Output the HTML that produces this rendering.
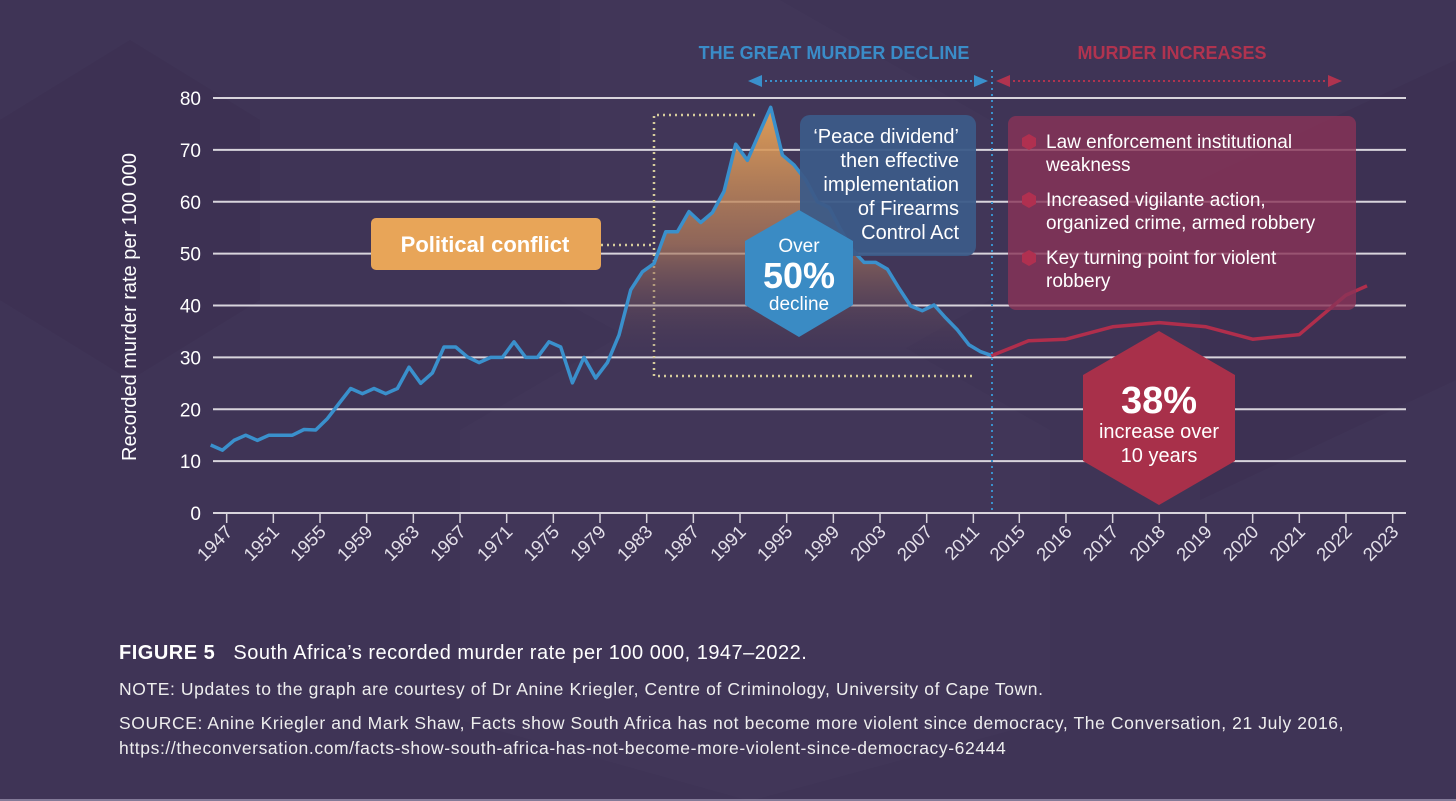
<!DOCTYPE html>
<html><head><meta charset="utf-8">
<style>
html,body{margin:0;padding:0;width:1456px;height:801px;overflow:hidden;background:#3f3456;}
svg{display:block;font-family:"Liberation Sans",sans-serif;}
.cap{position:absolute;left:119px;color:#fff;font-family:"Liberation Sans",sans-serif;white-space:nowrap;}
</style></head>
<body>
<svg id="chart" width="1456" height="801" viewBox="0 0 1456 801" xmlns="http://www.w3.org/2000/svg">
<defs>
<linearGradient id="peakFill" x1="0" y1="0" x2="0" y2="1">
<stop offset="0" stop-color="#e8a356" stop-opacity="0.95"/>
<stop offset="0.55" stop-color="#b07a5a" stop-opacity="0.7"/>
<stop offset="1" stop-color="#4a3a5a" stop-opacity="0.1"/>
</linearGradient>
</defs>
<rect width="1456" height="801" fill="#3f3456"/>
<g opacity="0.2">
<polygon points="0,120 130,40 260,120 260,300 130,380 0,300" fill="#35294a"/>
<polygon points="560,0 780,0 990,120 990,300 780,420 560,300" fill="#4a3f62"/>
<polygon points="1200,180 1456,60 1456,380 1200,500" fill="#35294a"/>
<polygon points="460,430 750,260 1050,430 1050,720 750,801 460,720" fill="#4a3f62"/>
</g>
<g id="grid"></g>
<g id="yticks"></g>
<text transform="translate(136,307) rotate(-90)" text-anchor="middle" fill="#fff" font-size="20">Recorded murder rate per 100 000</text>
<g id="xaxis"></g>

<path d="M755,115 H654 V376 H972" fill="none" stroke="#d6cc9c" stroke-width="2.5" stroke-dasharray="2,4"/>
<line x1="601" y1="245" x2="652" y2="245" stroke="#d6cc9c" stroke-width="2.5" stroke-dasharray="2,4"/>

<path id="area" fill="url(#peakFill)"/>
<path id="blueLine" fill="none" stroke="#3a90cc" stroke-width="3.5" stroke-linejoin="round"/>
<path id="redLine" fill="none" stroke="#b02e4c" stroke-width="3.5" stroke-linejoin="round"/>

<line x1="992" y1="70" x2="992" y2="513" stroke="#3a90cc" stroke-width="2" stroke-dasharray="2,4"/>

<text x="834" y="59" text-anchor="middle" fill="#3a8cc8" font-size="18" font-weight="bold">THE GREAT MURDER DECLINE</text>
<text x="1172" y="59" text-anchor="middle" fill="#b0334f" font-size="18" font-weight="bold">MURDER INCREASES</text>
<g>
<line x1="760" y1="81" x2="976" y2="81" stroke="#3a90cc" stroke-width="2" stroke-dasharray="2,3"/>
<polygon points="748,81 762,75 762,87" fill="#3a90cc"/><polygon points="988,81 974,75 974,87" fill="#3a90cc"/>
</g>
<g>
<line x1="1008" y1="81" x2="1330" y2="81" stroke="#b0334f" stroke-width="2" stroke-dasharray="2,3"/>
<polygon points="996,81 1010,75 1010,87" fill="#b0334f"/><polygon points="1342,81 1328,75 1328,87" fill="#b0334f"/>
</g>

<g>
<rect x="371" y="218" width="230" height="52" rx="5" fill="#e8a558"/>
<text x="485" y="252" text-anchor="middle" fill="#fff" font-size="22" font-weight="bold">Political conflict</text>
</g>

<g>
<rect x="800" y="115" width="176" height="141" rx="10" fill="#3c5b88" opacity="0.95"/>
<g fill="#fff" font-size="20" text-anchor="end">
<text x="959" y="143">‘Peace dividend’</text>
<text x="959" y="167">then effective</text>
<text x="959" y="191">implementation</text>
<text x="959" y="215">of Firearms</text>
<text x="959" y="239">Control Act</text>
</g>
</g>

<g>
<polygon points="799,210 853,241 853,305 799,337 745,305 745,241" fill="#3a8bc4"/>
<text x="799" y="252" text-anchor="middle" fill="#fff" font-size="19">Over</text>
<text x="799" y="288" text-anchor="middle" fill="#fff" font-size="36" font-weight="bold">50%</text>
<text x="799" y="310" text-anchor="middle" fill="#fff" font-size="19">decline</text>
</g>

<g>
<rect x="1008" y="116" width="348" height="194" rx="8" fill="#8a3358" opacity="0.8"/>
<g fill="#b03050">
<polygon points="1029,134 1036,138 1036,146 1029,150 1022,146 1022,138"/>
<polygon points="1029,192 1036,196 1036,204 1029,208 1022,204 1022,196"/>
<polygon points="1029,250 1036,254 1036,262 1029,266 1022,262 1022,254"/>
</g>
<g fill="#fff" font-size="19">
<text x="1046" y="148">Law enforcement institutional</text>
<text x="1046" y="171">weakness</text>
<text x="1046" y="206">Increased vigilante action,</text>
<text x="1046" y="229">organized crime, armed robbery</text>
<text x="1046" y="264">Key turning point for violent</text>
<text x="1046" y="287">robbery</text>
</g>
</g>

<g>
<polygon points="1159,331 1235,375 1235,461 1159,505 1083,461 1083,375" fill="#a8304a"/>
<text x="1159" y="413" text-anchor="middle" fill="#fff" font-size="38" font-weight="bold">38%</text>
<text x="1159" y="438" text-anchor="middle" fill="#fff" font-size="20">increase over</text>
<text x="1159" y="462" text-anchor="middle" fill="#fff" font-size="20">10 years</text>
</g>
<line x1="0" y1="800" x2="1456" y2="800" stroke="#9a92ad" stroke-width="1.5"/>
</svg>

<div class="cap" style="top:642px;font-size:20px;letter-spacing:0.5px;"><b>FIGURE 5</b>&nbsp;&nbsp; South Africa’s recorded murder rate per 100 000, 1947–2022.</div>
<div class="cap" style="top:679px;font-size:17.5px;letter-spacing:0.6px;color:#eee;">NOTE: Updates to the graph are courtesy of Dr Anine Kriegler, Centre of Criminology, University of Cape Town.</div>
<div class="cap" style="top:711px;font-size:17.5px;letter-spacing:0.6px;color:#eee;line-height:25px;">SOURCE: Anine Kriegler and Mark Shaw, Facts show South Africa has not become more violent since democracy, The Conversation, 21 July 2016,<br>https://theconversation.com/facts-show-south-africa-has-not-become-more-violent-since-democracy-62444</div>

<script>
const yTicks = [0,10,20,30,40,50,60,70,80];
const xTickLabelsEarly = ['1947','1951','1955','1959','1963','1967','1971','1975','1979','1983','1987','1991','1995','1999','2003','2007','2011'];
const xTickLabelsLate = ['2015','2016','2017','2018','2019','2020','2021','2022','2023'];
const blueYears = [1946,1947,1948,1949,1950,1951,1952,1953,1954,1955,1956,1957,1958,1959,1960,1961,1962,1963,1964,1965,1966,1967,1968,1969,1970,1971,1972,1973,1974,1975,1976,1977,1978,1979,1980,1981,1982,1983,1984,1985,1986,1987,1988,1989,1990,1991,1992,1993,1994,1995,1996,1997,1998,1999,2000,2001,2002,2003,2004,2005,2006,2007,2008,2009,2010,2011,2012,2013];
const blueValues = [13.1,12.1,14,15,14,15,15,15,16.1,16,18.2,21.1,24,23,24,23,24,28.1,25,27,32,32,30.1,29,30,30,33,30,30,33,32,25.1,30,26,29,34.3,43,46.5,48.1,54.2,54.2,58.1,56,57.9,62,71.1,68,73.1,78.2,69,67.1,64.2,60,58.9,54.6,50.7,48.3,48.3,47,43.3,39.9,39,40.1,37.6,35.3,32.4,31.1,30.3];
const redYears = [2014.4,2015.2,2016,2017,2018,2019,2020,2021,2022,2022.45];
const redValues = [30.3,33.2,33.5,35.9,36.7,35.9,33.5,34.4,42.0,43.8];
const areaStartYear = 1981;

const NS='http://www.w3.org/2000/svg';
const y = v => 513 - v*5.1875;
const xEarly = yr => 210.7 + (yr-1946)*11.667;
const xLate = yr => 1019.3 + (yr-2015)*46.67;
function mk(tag, attrs, parent){const e=document.createElementNS(NS,tag);for(const k in attrs)e.setAttribute(k,attrs[k]);parent.appendChild(e);return e;}

const grid=document.getElementById('grid'), yt=document.getElementById('yticks'), xa=document.getElementById('xaxis');
yTicks.forEach(v=>{
  const l=mk('line',{x1:213,x2:1406,y1:y(v),y2:y(v),stroke:'#d8d4dc','stroke-width':2},grid);
  
  
  const t=mk('text',{x:201,y:y(v)+7,'text-anchor':'end',fill:'#fff','font-size':19},yt);
  t.textContent=v;
  
  
});
function xTick(x,label){
  const tk=mk('line',{x1:x,x2:x,y1:513,y2:523,stroke:'#d8d4dc','stroke-width':1.5},xa);
  
  
  const t=mk('text',{transform:`translate(${x+7},${533}) rotate(-45)`,'text-anchor':'end',fill:'#e4e0ea','font-size':18.5},xa);
  t.textContent=label;
  
  
}
xTickLabelsEarly.forEach(l=>xTick(xEarly(+l)+4.3,l));
xTickLabelsLate.forEach(l=>xTick(xLate(+l),l));

const bpts=blueYears.map((yr,i)=>[xEarly(yr),y(blueValues[i])]);
document.getElementById('blueLine').setAttribute('d','M'+bpts.map(p=>p[0].toFixed(1)+','+p[1].toFixed(1)).join(' L'));
const apts=bpts.filter((p,i)=>blueYears[i]>=areaStartYear);
const base=y(blueValues[blueValues.length-1]);
document.getElementById('area').setAttribute('d','M'+apts[0][0]+','+base+' L'+apts.map(p=>p[0].toFixed(1)+','+p[1].toFixed(1)).join(' L')+' Z');
const rpts=redYears.map((yr,i)=>[xLate(yr),y(redValues[i])]);
document.getElementById('redLine').setAttribute('d','M'+rpts.map(p=>p[0].toFixed(1)+','+p[1].toFixed(1)).join(' L'));
</script>
</body></html>
